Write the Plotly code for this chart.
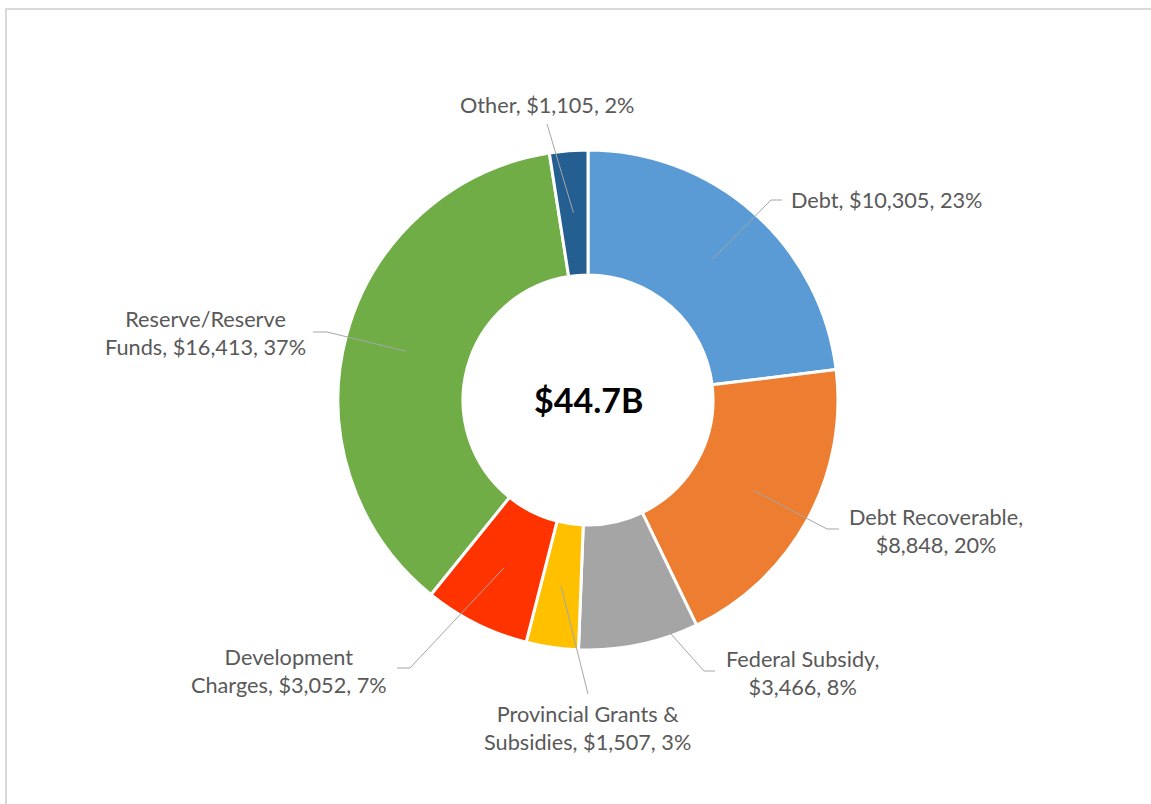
import math
import plotly.graph_objects as go

# ---- data ----
categories = ["Debt", "Debt Recoverable", "Federal Subsidy",
              "Provincial Grants & Subsidies", "Development Charges",
              "Reserve/Reserve Funds", "Other"]
values = [10305, 8848, 3466, 1507, 3052, 16413, 1105]
label_text = ["Debt, $10,305, 23%",
              "Debt Recoverable,<br>$8,848, 20%",
              "Federal Subsidy,<br>$3,466, 8%",
              "Provincial Grants &<br>Subsidies, $1,507, 3%",
              "Development<br>Charges, $3,052, 7%",
              "Reserve/Reserve<br>Funds, $16,413, 37%",
              "Other, $1,105, 2%"]
center_text = "$44.7B"
colors = ["#5B9BD5", "#ED7D31", "#A5A5A5", "#FFC000", "#FF3300", "#70AD47", "#255E91"]

# ---- layout constants (pixels) ----
W, H = 1151, 804
CX, CY, R = 588, 400, 250
HOLE = 0.5
LEADER_R = 188

# label anchor positions (x, y, xanchor)
label_pos = [(789, 200, "left"), (936, 531, "center"), (802, 673, "center"),
             (587, 728, "center"), (289, 671, "center"), (205, 333, "center"),
             (547, 105, "center")]
# leader line points after the in-slice start point
leader_pts = [[(771, 200), (782, 200)],
              [(827, 529), (839, 529)],
              [(704, 671), (715, 671)],
              [(588, 694)],
              [(410, 668), (397, 668)],
              [(327, 332), (313, 332)],
              [(547, 124)]]


def px(x):
    return x / W


def py(y):
    return 1 - y / H


fig = go.Figure()
fig.add_trace(go.Pie(
    labels=categories, values=values, sort=False, direction="clockwise",
    rotation=0, hole=HOLE, textinfo="none", hoverinfo="label+value+percent",
    marker=dict(colors=colors, line=dict(color="white", width=3)),
    domain=dict(x=[px(CX - R), px(CX + R)], y=[py(CY + R), py(CY - R)]),
    showlegend=False,
))

total = sum(values)
shapes = [dict(type="rect", xref="paper", yref="paper",
               x0=px(6), x1=px(W + 10), y0=py(H + 10), y1=py(9),
               line=dict(color="#D9D9D9", width=2), fillcolor="rgba(0,0,0,0)")]
annotations = []
cum = 0
for i, v in enumerate(values):
    mid = (cum + v / 2) / total * 2 * math.pi
    cum += v
    sx = CX + LEADER_R * math.sin(mid)
    sy = CY - LEADER_R * math.cos(mid)
    pts = [(sx, sy)] + leader_pts[i]
    path = "M " + " L ".join(f"{px(x):.5f},{py(y):.5f}" for x, y in pts)
    shapes.append(dict(type="path", xref="paper", yref="paper", path=path,
                       line=dict(color="#A6A6A6", width=1)))
    lx, ly, xa = label_pos[i]
    annotations.append(dict(x=px(lx), y=py(ly), xref="paper", yref="paper",
                            text=label_text[i], showarrow=False, xanchor=xa,
                            yanchor="middle", align="center",
                            font=dict(family="Lato", size=21.7, color="#595959")))

annotations.append(dict(x=px(CX), y=py(CY), xref="paper", yref="paper",
                        text=f"<b>{center_text}</b>", showarrow=False,
                        xanchor="center", yanchor="middle",
                        font=dict(family="Lato", size=34, color="#000000")))

fig.update_layout(width=W, height=H, margin=dict(l=0, r=0, t=0, b=0),
                  paper_bgcolor="white", plot_bgcolor="white",
                  shapes=shapes, annotations=annotations)

fig.write_html("out.html", config={"displayModeBar": False},
               post_script="document.body.style.margin='0';document.body.style.overflow='hidden';")
